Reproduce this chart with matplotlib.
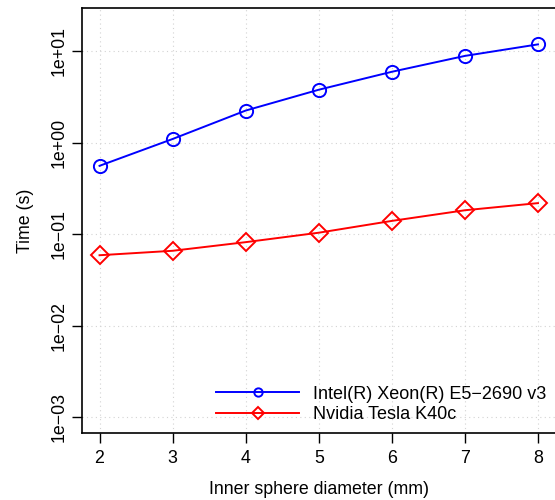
import matplotlib.pyplot as plt
from matplotlib.lines import Line2D
import numpy as np

plt.rcParams['font.family'] = ['Liberation Sans', 'DejaVu Sans']

# data
diameter = [2, 3, 4, 5, 6, 7, 8]
cpu_time = [0.56, 1.1, 2.25, 3.8, 5.97, 8.9, 11.9]
gpu_time = [0.059, 0.066, 0.082, 0.104, 0.14, 0.183, 0.219]
cpu_label = "Intel(R) Xeon(R) E5\u22122690 v3"
gpu_label = "Nvidia Tesla K40c"
yticks = [1e-3, 1e-2, 1e-1, 1e0, 1e1]
ytick_labels = ["1e\u221203", "1e\u221202", "1e\u221201", "1e+00", "1e+01"]

fig = plt.figure(figsize=(5.55, 5.0), dpi=100)
ax = fig.add_axes([82 / 555, 67 / 500, 473.5 / 555, 425 / 500])

ax.plot(diameter, cpu_time, color='blue', lw=1.4, marker='o', ms=9.5,
        mfc='none', mec='blue', mew=1.4)
ax.plot(diameter, gpu_time, color='red', lw=1.4, marker='D', ms=9.5,
        mfc='none', mec='red', mew=1.4)

ax.set_yscale('log')
# R style 4% padding around xlim 2..8 and ylim 1e-3..20
ax.set_xlim(1.76, 8.24)
lo, hi = np.log10(1e-3), np.log10(20)
pad = 0.04 * (hi - lo)
ax.set_ylim(10 ** (lo - pad), 10 ** (hi + pad))

ax.set_xticks(diameter)
ax.set_yticks(yticks)
ax.set_yticklabels(ytick_labels, rotation=90, va='center')
ax.minorticks_off()
ax.tick_params(axis='both', labelsize=12.8, length=7, width=1, pad=5)
ax.tick_params(axis='y', pad=3)

ax.grid(True, color='#d3d3d3', linestyle=(0, (1, 3)), lw=0.8)
for sp in ax.spines.values():
    sp.set_linewidth(1.2)

ax.set_xlabel("Inner sphere diameter (mm)", fontsize=12.8, labelpad=10)
ax.set_ylabel("Time (s)", fontsize=12.8, labelpad=12)

handles = [
    Line2D([], [], color='blue', lw=1.4, marker='o', ms=6, mfc='none', mew=1.4),
    Line2D([], [], color='red', lw=1.4, marker='D', ms=6, mfc='none', mew=1.4),
]
ax.legend(handles, [cpu_label, gpu_label], loc='lower right', frameon=False,
          fontsize=13, handlelength=4.6, handletextpad=0.75, labelspacing=0.2,
          borderaxespad=0.0, bbox_to_anchor=(0.995, 0.006))

fig.savefig("out.png", dpi=100)
